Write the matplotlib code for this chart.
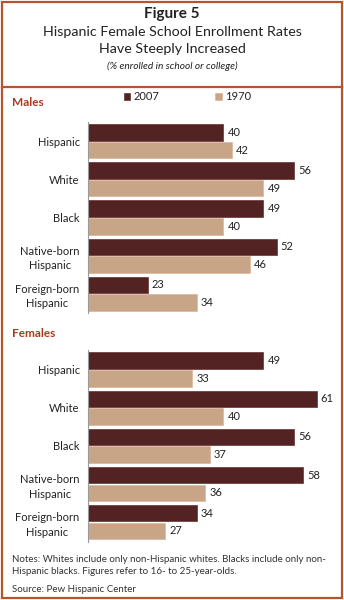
import matplotlib
matplotlib.use("Agg")
import matplotlib.pyplot as plt
from matplotlib.patches import Rectangle
from matplotlib.lines import Line2D

plt.rcParams["font.family"] = ["Lato", "DejaVu Sans"]

# ---------------------------------------------------------------------------
# Data
# ---------------------------------------------------------------------------
categories = ["Hispanic", "White", "Black", "Native-born\nHispanic", "Foreign-born\nHispanic"]
males_2007 = [40, 56, 49, 52, 23]
males_1970 = [42, 49, 40, 46, 34]
females_2007 = [49, 61, 56, 58, 34]
females_1970 = [33, 40, 37, 36, 27]

# ---------------------------------------------------------------------------
# Style
# ---------------------------------------------------------------------------
DARK = "#532222"
TAN = "#C9A587"
TAN_EDGE = "#DDB39C"
FRAME = "#B8532A"
SECTION = "#A83A1C"
TEXT = "#222222"
AXIS = "#9A9A9A"

W, H = 344, 600
fig = plt.figure(figsize=(W / 100, H / 100), dpi=100, facecolor="white")


def fx(px):
    return px / W


def fy(py):
    return 1 - py / H


# frame + separator
fig.patches.append(Rectangle((fx(1.5), fy(597.5)), fx(340), (596 / H),
                             transform=fig.transFigure, fill=False,
                             edgecolor=FRAME, linewidth=1.6))
fig.lines.append(Line2D([fx(1.5), fx(341.5)], [fy(87), fy(87)],
                        transform=fig.transFigure, color=FRAME, linewidth=1.6))

# titles
fig.text(0.5, fy(14), "Figure 5", ha="center", va="center",
         fontsize=11, fontweight="bold", color=TEXT)
fig.text(0.5, fy(32), "Hispanic Female School Enrollment Rates", ha="center",
         va="center", fontsize=10.3, color=TEXT)
fig.text(0.5, fy(49), "Have Steeply Increased", ha="center", va="center",
         fontsize=10.3, color=TEXT)
fig.text(0.5, fy(66), "(% enrolled in school or college)", ha="center",
         va="center", fontsize=7.3, style="italic", color=TEXT)

# section labels
fig.text(fx(12), fy(103), "Males", ha="left", va="center", fontsize=8.5,
         fontweight="bold", color=SECTION)
fig.text(fx(12), fy(333), "Females", ha="left", va="center", fontsize=8.5,
         fontweight="bold", color=SECTION)

XMIN, XMAX = 9.6, 64.0
OFF = 0.232
BH = 0.43


def panel(top_px, v07, v70):
    ax = fig.add_axes([fx(88), fy(top_px + 191.6), fx(242), 191.6 / H])
    ys = list(range(len(categories)))
    b1 = ax.barh([y - OFF for y in ys], v07, height=BH, left=0, color=DARK,
                 edgecolor="#6A3030", linewidth=0.5, label="2007")
    b2 = ax.barh([y + OFF for y in ys], v70, height=BH, left=0, color=TAN,
                 edgecolor=TAN_EDGE, linewidth=0.5, label="1970")
    for bars, vals in ((b1, v07), (b2, v70)):
        for bar, v in zip(bars, vals):
            ax.annotate(f"{v}", (v, bar.get_y() + bar.get_height() / 2),
                        xytext=(3, 0), textcoords="offset points",
                        ha="left", va="center", fontsize=8, color=TEXT)
    ax.set_xlim(XMIN, XMAX)
    ax.set_ylim(len(categories) - 0.49, -0.51)
    ax.set_yticks(ys)
    ax.set_yticklabels(categories, fontsize=8, color=TEXT)
    for lab in ax.get_yticklabels():
        lab.set_multialignment("center")
        lab.set_linespacing(1.4)
    ax.tick_params(axis="y", length=0, pad=6)
    ax.set_xticks([])
    for sp in ("top", "right", "bottom"):
        ax.spines[sp].set_visible(False)
    ax.spines["left"].set_color(AXIS)
    ax.spines["left"].set_linewidth(0.8)
    ax.patch.set_alpha(0)
    return ax, b1, b2


ax_m, h07, h70 = panel(121.7, males_2007, males_1970)
ax_f, _, _ = panel(350.0, females_2007, females_1970)

leg = ax_m.legend(handles=[h07, h70], loc="center left",
                  bbox_to_anchor=(fx(118), fy(97)),
                  bbox_transform=fig.transFigure, ncol=2, frameon=False,
                  fontsize=8, handlelength=0.6, handleheight=0.6,
                  handletextpad=0.3, columnspacing=5.0, borderpad=0)
for t in leg.get_texts():
    t.set_color(TEXT)

# notes
NOTE = "#333333"
fig.text(fx(12), fy(560), "Notes: Whites include only non-Hispanic whites. Blacks include only non-",
         ha="left", va="center", fontsize=7.0, color=NOTE)
fig.text(fx(12), fy(572), "Hispanic blacks. Figures refer to 16- to 25-year-olds.",
         ha="left", va="center", fontsize=7.0, color=NOTE)
fig.text(fx(12), fy(589), "Source: Pew Hispanic Center",
         ha="left", va="center", fontsize=7.0, color=NOTE)

fig.savefig("out.png", dpi=100, facecolor="white")
